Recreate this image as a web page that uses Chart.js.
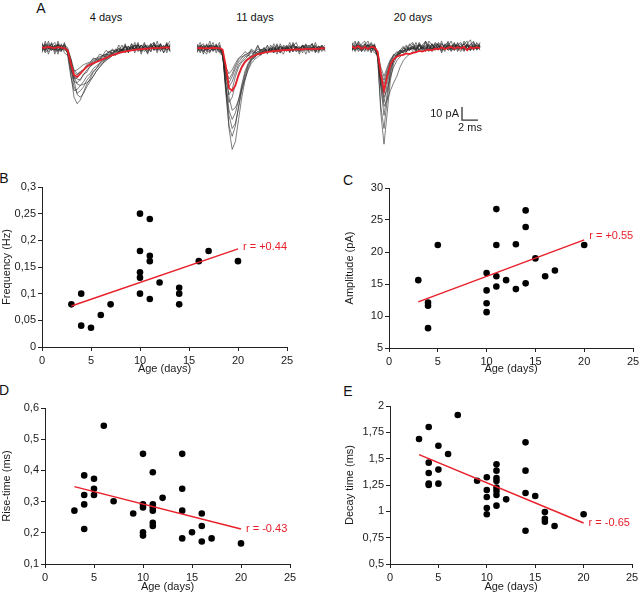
<!DOCTYPE html>
<html><head><meta charset="utf-8">
<script src="https://cdn.jsdelivr.net/npm/chart.js@4.4.1/dist/chart.umd.min.js"></script>
<style>
html,body{margin:0;padding:0;background:#fff}
body{width:640px;height:595px;position:relative;overflow:hidden;font-family:"Liberation Sans",Arial,sans-serif;color:#111}
.cv{position:absolute;display:block}
.lab{position:absolute;transform:translate(-50%,-50%);line-height:1;white-space:nowrap}
.big{font-size:14px}
.ttl{font-size:11px}
</style></head>
<body>
<div class="lab big" style="left:41px;top:8px">A</div>
<div class="lab ttl" style="left:106px;top:17px">4 days</div>
<div class="lab ttl" style="left:255px;top:17px">11 days</div>
<div class="lab ttl" style="left:413px;top:17px">20 days</div>
<div class="lab big" style="left:4px;top:178px">B</div>
<div class="lab big" style="left:348px;top:180px">C</div>
<div class="lab big" style="left:4px;top:390px">D</div>
<div class="lab big" style="left:348px;top:391px">E</div>

<canvas id="t4" class="cv" width="130" height="120" style="left:42px;top:32px"></canvas>
<canvas id="t11" class="cv" width="130" height="120" style="left:197px;top:32px"></canvas>
<canvas id="t20" class="cv" width="130" height="120" style="left:352px;top:32px"></canvas>

<canvas id="cB" class="cv" width="320" height="210" style="left:0px;top:170px"></canvas>
<canvas id="cC" class="cv" width="330" height="210" style="left:320px;top:170px"></canvas>
<canvas id="cD" class="cv" width="320" height="210" style="left:0px;top:385px"></canvas>
<canvas id="cE" class="cv" width="330" height="210" style="left:320px;top:385px"></canvas>

<script>
// ---------- Panel A: traces (time in ms, current in pA) ----------
const traceTimes = [0,0.4,0.8,1.2,1.6,2,2.4,2.8,3.2,3.6,4,4.4,4.8,5.2,5.6,6,6.4,6.8,7.2,7.6,8,8.4,8.8,9.2,9.6,10,10.4,10.8,11.2,11.6,12,12.4,12.8,13.2,13.6,14,14.4,14.8,15.2,15.6,16];

const mean4 = [0.3,-0.2,0.5,0,-0.4,0.4,0.1,-0.3,-2,-12,-21,-22.4,-20,-17,-14.7,-13,-12,-11,-10,-8.8,-7.8,-6.8,-5.8,-5,-4.2,-3.5,-3,-2.5,-2.1,-1.7,-1.4,-1.1,-0.9,-0.7,-0.5,-0.4,-0.3,-0.2,0,0.1,-0.1];
const traces4 = [
 [1,-2,3,-1,2,-3,0,2,-3,-20,-38,-43,-40,-34,-28,-24,-19,-16,-12,-10,-9,-6,-5,-3,-4,-1,-2,1,-1,2,0,-2,3,-1,1,-2,2,0,-1,3,-2],
 [-2,1,-1,3,-2,2,-1,0,-2,-15,-30,-35,-33,-30,-25,-22,-18,-16,-13,-11,-8,-7,-5,-6,-3,-2,-3,0,-1,1,-2,2,-1,0,3,-1,1,-2,0,2,-1],
 [2,0,-3,1,-1,3,-2,1,-4,-14,-24,-23,-20,-17,-15,-13,-11,-10,-9,-7,-6,-5,-4,-2,-3,-1,0,-2,1,-1,2,-2,0,1,-3,2,0,-1,1,-2,2],
 [-1,3,0,-2,2,-1,-3,2,0,-8,-17,-20,-19,-17,-14,-13,-10,-9,-8,-6,-5,-3,-4,-2,-1,-2,1,-1,0,2,-1,-3,1,2,-1,0,-2,3,-1,0,1],
 [0,-2,2,-1,1,-3,2,-1,-2,-10,-22,-28,-29,-28,-27,-25,-22,-18,-15,-12,-9,-8,-6,-5,-3,-4,-1,-2,0,-1,2,-2,1,0,-1,3,-2,1,-1,2,0],
 [3,-1,1,-2,0,2,-1,3,-3,-12,-18,-17,-15,-13,-12,-11,-9,-8,-7,-6,-5,-3,-2,-3,-1,-2,0,1,-2,2,-1,1,-3,0,2,-2,1,0,-1,2,-3],
 [-3,2,-1,1,-2,3,0,-2,-1,-9,-25,-36,-38,-35,-30,-26,-22,-18,-15,-12,-10,-8,-6,-5,-4,-2,-3,-1,1,-2,0,2,-1,-2,1,0,2,-1,1,-2,1],
 [4,-3,5,-2,1,-5,3,-1,-4,-16,-26,-27,-24,-21,-17,-15,-12,-11,-8,-9,-5,-6,-2,-4,0,-3,2,-4,3,-1,4,-3,1,-5,2,4,-2,3,-4,1,5],
 [-4,5,-1,3,-5,2,-3,4,-5,-12,-22,-24,-25,-20,-19,-14,-13,-9,-10,-6,-7,-3,-5,-1,-3,2,-4,1,-2,4,-3,2,-1,-4,3,-2,5,-3,2,-4,3],
 [2,-4,-1,4,-3,5,-2,0,-3,-9,-19,-21,-18,-17,-13,-12,-8,-9,-5,-6,-2,-4,-1,-3,2,-2,3,-4,1,-1,3,-5,2,0,-3,4,-1,2,-4,3,-2],
 [-2,3,-5,1,4,-2,2,-4,-6,-22,-33,-32,-29,-26,-22,-20,-16,-14,-12,-9,-7,-6,-4,-5,-2,-3,1,-2,3,-4,2,-1,4,-3,0,2,-4,3,-1,4,-3]
];

const mean11 = [-0.5,-0.2,-0.6,-0.3,-0.5,-0.1,-0.4,-0.3,-1.5,-14,-31,-33,-29,-21,-15,-11,-8.8,-7.2,-6,-5,-4.3,-3.8,-3.3,-3,-2.7,-2.4,-2.2,-2,-1.8,-1.6,-1.5,-1.3,-1.2,-1.4,-1,-0.9,-1.1,-0.7,-0.9,-0.4,-0.6];
const traces11 = [
 [-1,2,-3,1,0,-2,2,-1,-3,-30,-62,-78,-72,-55,-38,-25,-16,-10,-7,-5,-4,-3,-1,-2,0,-3,1,-1,2,-2,0,1,-3,2,-1,0,-2,1,-1,2,-2],
 [2,-1,0,-3,2,1,-2,0,-4,-35,-60,-68,-60,-45,-30,-20,-13,-9,-6,-5,-3,-4,-2,-1,-3,0,-2,1,-1,-3,2,0,-1,1,-2,0,3,-2,1,-1,0],
 [-2,1,-1,2,-3,0,1,-2,-2,-28,-48,-55,-50,-40,-28,-18,-12,-8,-7,-4,-5,-2,-3,-1,-2,1,-3,0,-1,2,-2,-1,1,-2,0,2,-1,-3,1,0,-1],
 [0,-3,2,-1,1,-2,-1,2,-5,-30,-42,-38,-28,-20,-14,-10,-8,-6,-5,-3,-4,-2,-1,-3,0,-2,1,-1,-2,0,2,-3,0,1,-1,-2,1,0,-2,1,-1],
 [1,-1,-3,0,2,-2,1,-1,-6,-22,-30,-26,-19,-13,-10,-7,-6,-4,-5,-3,-2,-1,-3,0,-2,-1,1,-2,0,-1,-3,1,-1,0,2,-2,0,-1,1,-3,0],
 [-3,0,1,-2,0,-1,2,-3,-4,-17,-24,-20,-14,-9,-7,-6,-4,-3,-4,-1,-2,0,-3,-1,1,-2,-1,0,-3,1,-2,0,-1,-2,1,-1,0,-3,1,-2,0],
 [1,-2,0,2,-3,1,-1,0,-3,-18,-38,-48,-46,-40,-32,-24,-17,-12,-9,-7,-5,-4,-3,-2,-4,-1,0,-2,-1,1,-3,0,-1,2,-2,-1,0,1,-2,0,-1],
 [3,-4,1,-2,5,-3,0,-4,-6,-25,-36,-32,-22,-15,-11,-9,-6,-7,-3,-5,-1,-4,2,-3,0,-5,3,-2,1,-4,4,-1,-3,2,-5,1,3,-2,-4,2,-1],
 [-3,2,-5,3,-1,4,-4,1,-7,-20,-27,-22,-16,-11,-8,-5,-6,-2,-4,1,-3,0,-5,2,-2,3,-4,0,-1,4,-3,1,-5,2,0,-2,3,-4,1,-1,2],
 [0,4,-2,-5,2,-1,3,-3,-4,-32,-52,-62,-58,-46,-33,-22,-14,-9,-8,-4,-6,-2,-3,0,-4,2,-2,-5,1,-1,3,-3,0,-4,2,1,-3,4,-2,0,-3],
 [-4,1,3,-2,-4,2,-1,4,-5,-15,-20,-17,-12,-8,-6,-3,-5,-1,-3,2,-4,-1,1,-3,3,-2,-4,2,0,-3,1,4,-2,-1,3,-4,0,2,-3,1,-2]
];

const mean20 = [0.8,-0.5,1.2,-0.8,0.5,-1,0.6,0.2,-3,-20,-33,-22,-13,-9,-7,-6,-5.5,-4.5,-5,-4,-3.5,-2.5,-3,-2,-1.5,-2,-0.8,-1.2,0.3,-1,-0.2,0.5,-0.8,0.4,-0.5,0.6,-2,0.3,-0.6,0.4,-0.3];
const traces20 = [
 [2,-1,1,-2,3,0,-1,2,-6,-50,-74,-50,-25,-12,-7,-4,-3,-1,-2,0,-3,1,-1,2,0,-2,3,1,-1,2,-2,0,3,-1,1,-2,2,0,1,-1,2],
 [-1,2,0,-3,1,2,-2,0,-8,-45,-62,-40,-20,-10,-6,-5,-2,-3,0,-1,1,-2,2,0,-1,3,-2,1,0,-1,2,-3,1,2,-1,0,3,-2,1,0,-1],
 [0,-2,3,-1,0,2,-3,1,-5,-30,-45,-40,-33,-27,-22,-15,-10,-7,-5,-3,-4,-1,0,-2,2,-1,1,3,-2,0,1,-1,2,-2,0,3,-1,1,-2,2,0],
 [1,-3,2,0,-2,1,3,-1,-6,-26,-35,-24,-14,-9,-6,-3,-4,-1,-2,1,-1,2,-3,0,2,-1,1,-2,3,0,-1,2,-2,1,0,-3,2,1,-1,2,-2],
 [-2,1,-1,2,0,-3,1,2,-4,-20,-28,-19,-11,-7,-5,-4,-2,-3,0,-1,2,-2,1,-1,3,0,-2,1,-1,2,0,-2,1,3,-1,0,2,-2,1,3,0],
 [3,0,-2,1,-1,2,0,-2,-3,-15,-22,-15,-9,-6,-4,-2,-3,0,-1,1,-2,2,0,-1,1,-3,2,0,1,-1,3,-2,0,2,-1,1,-2,3,0,-1,2],
 [-1,0,2,-2,1,-1,2,0,-7,-28,-38,-32,-22,-15,-10,-7,-5,-3,-1,-2,0,2,-1,1,-3,2,0,-1,3,1,-2,0,2,-1,3,-2,1,0,2,-1,1],
 [4,-2,5,1,-3,3,-4,2,-5,-24,-32,-20,-12,-6,-3,-5,0,-2,3,-1,4,-3,2,5,-2,3,-1,4,1,-3,5,0,-2,4,-1,3,5,-2,4,0,3],
 [-3,4,-1,3,5,-2,1,-4,-6,-30,-52,-35,-18,-9,-5,-2,-4,1,-1,3,-2,4,0,-3,5,2,-1,3,-4,2,4,-1,3,0,-3,5,1,-2,3,-1,4],
 [2,5,-3,0,3,-2,4,-1,-4,-18,-25,-17,-10,-5,-7,-2,1,-3,2,4,-1,3,-2,5,1,-1,4,2,-3,3,1,5,-2,2,4,-1,3,6,-2,4,1],
 [-2,1,4,-3,2,5,-1,3,-6,-22,-42,-28,-16,-10,-6,-3,-1,2,-2,1,-3,3,0,4,-2,1,3,-1,5,-2,2,0,4,-3,1,3,-1,2,5,-2,1]
];

// scale bar: 10 pA vertical, 2 ms horizontal
const scaleBarX = [13.75, 13.75, 15.75];
const scaleBarY = [-45.5, -55.5, -55.5];

// ---------- Panels B-E: scatter data ----------
const ageTicks = [0,5,10,15,20,25];

const freqAge = [3,4,4,5,6,7,10,10,10,10,10,11,11,11,11,12,14,14,14,16,17,20];
const freqHz  = [0.08,0.10,0.04,0.036,0.06,0.08,0.25,0.18,0.14,0.13,0.10,0.24,0.171,0.161,0.09,0.121,0.111,0.10,0.08,0.161,0.18,0.161];
const freqFitX = [3,20];
const freqFitY = [0.077,0.184];
const freqTicks = [0,0.05,0.1,0.15,0.2,0.25,0.3];

const ampAge = [3,4,4,4,5,10,10,10,10,11,11,11,11,12,13,13,14,14,14,15,16,17,20];
const ampPA  = [15.6,12.1,11.6,8.1,21.1,16.7,14.0,12.0,10.6,26.7,21.1,16.2,14.6,15.6,21.2,14.2,26.5,23.9,15.1,19.0,16.2,17.1,21.1];
const ampFitX = [3,20];
const ampFitY = [12.2,21.9];
const ampTicks = [5,10,15,20,25,30];

const riseAge = [3,4,4,4,4,5,5,5,6,7,9,10,10,10,10,10,11,11,11,11,11,11,12,14,14,14,14,15,16,16,16,17,20];
const riseMs  = [0.271,0.384,0.321,0.291,0.212,0.373,0.341,0.321,0.543,0.301,0.262,0.453,0.291,0.281,0.202,0.191,0.394,0.291,0.281,0.271,0.232,0.222,0.312,0.453,0.341,0.271,0.182,0.202,0.262,0.222,0.172,0.182,0.166];
const riseFitX = [3,20];
const riseFitY = [0.348,0.212];
const riseTicks = [0.1,0.2,0.3,0.4,0.5,0.6];

const decayAge = [3,4,4,4,4,4,5,5,5,6,7,9,10,10,10,10,10,11,11,11,11,11,11,11,11,12,14,14,14,14,15,16,16,16,17,20];
const decayMs  = [1.687,1.80,1.462,1.364,1.263,1.25,1.623,1.396,1.263,1.544,1.915,1.291,1.323,1.203,1.136,1.032,0.972,1.446,1.386,1.316,1.288,1.225,1.193,1.155,1.054,1.114,1.655,1.386,1.174,0.816,1.146,0.994,0.930,0.902,0.861,0.972];
const decayFitX = [3,20];
const decayFitY = [1.538,0.889];
const decayTicks = [0.5,0.75,1,1.25,1.5,1.75,2];

// ---------- drawing ----------
const FONT = '"Liberation Sans", Arial, sans-serif';
const RED = '#e8202a';
const AX = '#222';
const TXT = '#1a1a1a';
Chart.defaults.font.family = FONT;
Chart.defaults.devicePixelRatio = 1;

const xy = (xs, ys) => xs.map((x, i) => ({x: x, y: ys[i]}));
const fmt = v => String(v).replace('.', ',');

const barLabel = {
  id: 'barLabel',
  afterDatasetsDraw(chart, args, opts) {
    if (opts.index === undefined) return;
    const p = chart.getDatasetMeta(opts.index).data;
    const ctx = chart.ctx;
    ctx.save();
    ctx.fillStyle = TXT;
    ctx.font = '11px ' + FONT;
    ctx.textBaseline = 'middle';
    ctx.textAlign = 'right';
    ctx.fillText('10 pA', p[0].x - 3, (p[0].y + p[1].y) / 2);
    ctx.textAlign = 'center';
    ctx.fillText('2 ms', (p[1].x + p[2].x) / 2, p[1].y + 8);
    ctx.restore();
  }
};

function traceChart(id, grays, mean, withBar) {
  const ds = grays.map(g => ({
    data: xy(traceTimes, g), borderColor: 'rgba(40,40,40,0.8)', borderWidth: 0.75,
    pointRadius: 0, tension: 0, order: 2
  }));
  ds.push({data: xy(traceTimes, mean), borderColor: RED, borderWidth: 1.8, pointRadius: 0, tension: 0, order: 1});
  let barIndex;
  if (withBar) {
    barIndex = ds.length;
    ds.push({data: xy(scaleBarX, scaleBarY), borderColor: '#333', borderWidth: 1.3, pointRadius: 0, tension: 0, order: 0});
  }
  new Chart(document.getElementById(id), {
    type: 'line',
    data: {datasets: ds},
    options: {
      responsive: false, animation: false, events: [],
      layout: {padding: 0},
      plugins: {legend: {display: false}, tooltip: {enabled: false}, barLabel: {index: barIndex}},
      scales: {
        x: {type: 'linear', min: 0, max: 16.25, display: false},
        y: {type: 'linear', min: -80, max: 12, display: false}
      }
    },
    plugins: [barLabel]
  });
}

traceChart('t4', traces4, mean4, false);
traceChart('t11', traces11, mean11, false);
traceChart('t20', traces20, mean20, true);

const rLabel = {
  id: 'rLabel',
  afterDatasetsDraw(chart, args, opts) {
    const pts = chart.getDatasetMeta(1).data;
    const p = pts[pts.length - 1];
    const ctx = chart.ctx;
    ctx.save();
    ctx.fillStyle = RED;
    ctx.font = '11px ' + FONT;
    ctx.textBaseline = 'middle';
    ctx.textAlign = 'left';
    ctx.fillText(opts.text, p.x + 5, p.y + opts.dy);
    ctx.restore();
  }
};

function scatterChart(id, c) {
  new Chart(document.getElementById(id), {
    type: 'scatter',
    data: {datasets: [
      {data: xy(c.ages, c.vals), pointRadius: 3.3, pointBackgroundColor: '#000', pointBorderWidth: 0, pointBorderColor: '#000', order: 2},
      {type: 'line', data: xy(c.fitX, c.fitY), borderColor: RED, borderWidth: 1.5, pointRadius: 0, showLine: true, fill: false, order: 1}
    ]},
    options: {
      responsive: false, animation: false, events: [],
      layout: {padding: {left: c.pl, top: c.pt, right: c.pr, bottom: 0}},
      plugins: {legend: {display: false}, tooltip: {enabled: false}, rLabel: {text: c.r, dy: c.dy}},
      scales: {
        x: {
          type: 'linear', min: 0, max: 25,
          afterBuildTicks: s => { s.ticks = ageTicks.map(v => ({value: v})); },
          afterFit: s => { s.height = c.xh; },
          grid: {display: true, drawOnChartArea: false, drawTicks: true, tickLength: 4, color: AX, lineWidth: 1},
          border: {display: true, color: AX, width: 1},
          ticks: {font: {size: 11}, color: TXT, padding: 3, maxRotation: 0, autoSkip: false},
          title: {display: true, text: 'Age (days)', font: {size: 11}, color: TXT, padding: {top: 0, bottom: c.xtb}}
        },
        y: {
          type: 'linear', min: c.ymin, max: c.ymax,
          afterBuildTicks: s => { s.ticks = c.ticks.map(v => ({value: v})); },
          afterFit: s => { s.width = c.yw; },
          grid: {display: true, drawOnChartArea: false, drawTicks: true, tickLength: 4, color: AX, lineWidth: 1},
          border: {display: true, color: AX, width: 1},
          ticks: {font: {size: 11}, color: TXT, padding: 2, autoSkip: false, callback: v => fmt(v)},
          title: {display: true, text: c.ytitle, font: {size: 11}, color: TXT, padding: {top: c.ytp, bottom: 0}}
        }
      }
    },
    plugins: [rLabel]
  });
}

scatterChart('cB', {ages: freqAge, vals: freqHz, fitX: freqFitX, fitY: freqFitY, ticks: freqTicks,
  ymin: 0, ymax: 0.3, ytitle: 'Frequency (Hz)', r: 'r = +0.44', dy: -2,
  pl: 0, pt: 17, pr: 33, yw: 42, xh: 33, ytp: 0, xtb: 4});
scatterChart('cC', {ages: ampAge, vals: ampPA, fitX: ampFitX, fitY: ampFitY, ticks: ampTicks,
  ymin: 5, ymax: 30, ytitle: 'Amplitude (pA)', r: 'r = +0.55', dy: -4,
  pl: 20, pt: 18, pr: 17, yw: 49, xh: 32, ytp: 3, xtb: 4});
scatterChart('cD', {ages: riseAge, vals: riseMs, fitX: riseFitX, fitY: riseFitY, ticks: riseTicks,
  ymin: 0.1, ymax: 0.6, ytitle: 'Rise-time (ms)', r: 'r = -0.43', dy: 0,
  pl: 0, pt: 23, pr: 30, yw: 45, xh: 31, ytp: 0, xtb: 1});
scatterChart('cE', {ages: decayAge, vals: decayMs, fitX: decayFitX, fitY: decayFitY, ticks: decayTicks,
  ymin: 0.5, ymax: 2, ytitle: 'Decay time (ms)', r: 'r = -0.65', dy: 0,
  pl: 20, pt: 21, pr: 18, yw: 50, xh: 31, ytp: 3, xtb: 1});
</script>
</body></html>
